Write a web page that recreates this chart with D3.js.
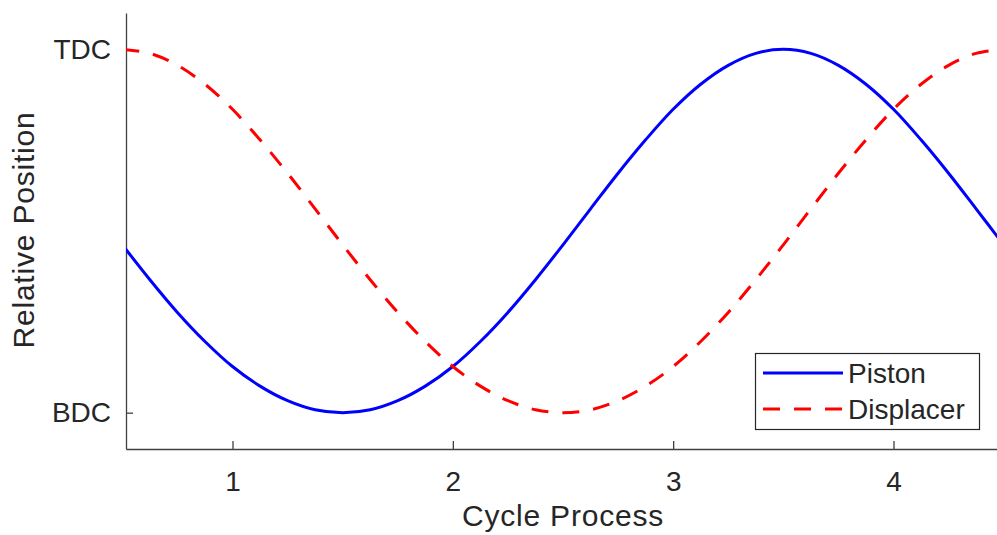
<!DOCTYPE html>
<html>
<head>
<meta charset="utf-8">
<script src="https://cdn.jsdelivr.net/npm/d3@7"></script>
<style>
  body { margin: 0; background: #fff; }
  svg text { font-family: "Liberation Sans", Arial, Helvetica, sans-serif; fill: #262626; }
  .axis path, .axis line { stroke: #404040; stroke-width: 1.3; }
</style>
</head>
<body>
<svg id="chart" width="997" height="535"></svg>
<script>
// cycle position samples (x) and relative positions (0 = BDC, 1 = TDC)
const cycle = [0.5, 0.625, 0.75, 0.875, 1.0, 1.125, 1.25, 1.375, 1.5, 1.625, 1.75, 1.875,
  2.0, 2.125, 2.25, 2.375, 2.5, 2.625, 2.75, 2.875, 3.0, 3.125, 3.25, 3.375, 3.5,
  3.625, 3.75, 3.875, 4.0, 4.125, 4.25, 4.375, 4.5];
const piston = [0.462, 0.366, 0.276, 0.196, 0.127, 0.073, 0.033, 0.008, 0.0, 0.008, 0.033, 0.073,
  0.127, 0.196, 0.276, 0.366, 0.462, 0.561, 0.659, 0.751, 0.835, 0.904, 0.956, 0.989, 1.0,
  0.989, 0.956, 0.904, 0.835, 0.751, 0.659, 0.561, 0.462];
const displacer = [1.0, 0.989, 0.956, 0.904, 0.835, 0.751, 0.659, 0.561, 0.462, 0.366, 0.276, 0.196,
  0.127, 0.073, 0.033, 0.008, 0.0, 0.008, 0.033, 0.073, 0.127, 0.196, 0.276, 0.366, 0.462,
  0.561, 0.659, 0.751, 0.835, 0.904, 0.956, 0.989, 1.0];
const xTicks = [1, 2, 3, 4];
const yTicks = [0, 1];
const yTickLabels = ["BDC", "TDC"];
const seriesNames = ["Piston", "Displacer"];

const svg = d3.select("#chart");
const plotLeft = 126, plotRight = 997, plotTop = 13, plotBottom = 449;

const xScale = d3.scaleLinear().domain([0.5166, 4.4698]).range([plotLeft, plotRight]);
const yScale = d3.scaleLinear().domain([-0.1, 1.1]).range([plotBottom, plotTop]);

svg.append("defs").append("clipPath").attr("id", "plotclip")
  .append("rect")
  .attr("x", plotLeft).attr("y", plotTop)
  .attr("width", plotRight - plotLeft).attr("height", plotBottom - plotTop);

// axes (ticks point inward)
const xAxis = d3.axisBottom(xScale)
  .tickValues(xTicks)
  .tickFormat(d3.format("d"))
  .tickSizeInner(-8)
  .tickSizeOuter(0)
  .tickPadding(22);

const yAxis = d3.axisLeft(yScale)
  .tickValues(yTicks)
  .tickFormat((d, i) => yTickLabels[i])
  .tickSizeInner(-7)
  .tickSizeOuter(0)
  .tickPadding(15);

svg.append("g")
  .attr("class", "axis")
  .attr("transform", `translate(0,${plotBottom})`)
  .call(xAxis)
  .call(g => g.selectAll("text").style("font-size", "28px"));

svg.append("g")
  .attr("class", "axis")
  .attr("transform", `translate(${plotLeft},0)`)
  .call(yAxis)
  .call(g => g.selectAll("text").style("font-size", "28px"));

// axis labels
svg.append("text")
  .attr("x", 563)
  .attr("y", 526)
  .attr("text-anchor", "middle")
  .style("font-size", "30px")
  .style("letter-spacing", "0.8px")
  .text("Cycle Process");

svg.append("text")
  .attr("transform", "translate(34,230) rotate(-90)")
  .attr("text-anchor", "middle")
  .style("font-size", "30px")
  .style("letter-spacing", "0.8px")
  .text("Relative Position");

// lines
const plot = svg.append("g").attr("clip-path", "url(#plotclip)");

const lineGen = values => d3.line()
  .x((d, i) => xScale(cycle[i]))
  .y(d => yScale(d))
  .curve(d3.curveCatmullRom)(values);

plot.append("path")
  .attr("d", lineGen(piston))
  .attr("fill", "none")
  .attr("stroke", "#0000ff")
  .attr("stroke-width", 3);

plot.append("path")
  .attr("d", lineGen(displacer))
  .attr("fill", "none")
  .attr("stroke", "#ff0000")
  .attr("stroke-width", 3)
  .attr("stroke-dasharray", "17,14");

// legend
const legend = svg.append("g");
legend.append("rect")
  .attr("x", 755.5).attr("y", 353.5)
  .attr("width", 224).attr("height", 76)
  .attr("fill", "#fff")
  .attr("stroke", "#262626")
  .attr("stroke-width", 1.2);

const legendStyles = [
  { color: "#0000ff", dash: null },
  { color: "#ff0000", dash: "17,14" }
];
seriesNames.forEach((name, i) => {
  const y = 373 + i * 36;
  legend.append("line")
    .attr("x1", 763).attr("x2", 843)
    .attr("y1", y).attr("y2", y)
    .attr("stroke", legendStyles[i].color)
    .attr("stroke-width", 3)
    .attr("stroke-dasharray", legendStyles[i].dash);
  legend.append("text")
    .attr("x", 848)
    .attr("y", y + 10)
    .style("font-size", "28px")
    .text(name);
});
</script>
</body>
</html>
